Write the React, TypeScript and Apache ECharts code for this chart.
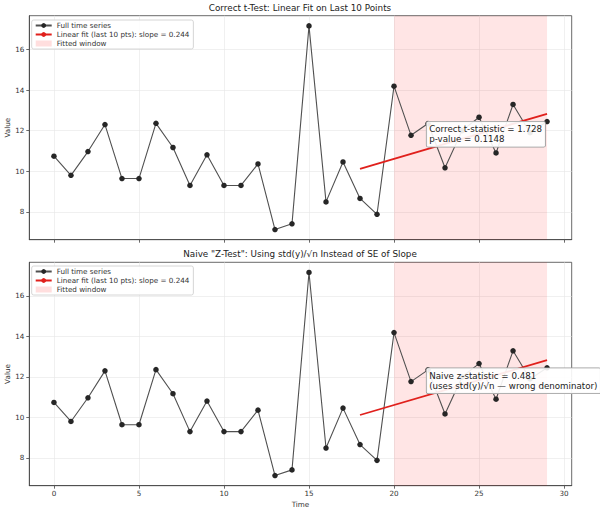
import React, { useEffect, useRef } from "react";
import * as echarts from "echarts";

// ---- data ----
const values = [
  10.74, 9.8, 10.97, 12.3, 9.64, 9.64, 12.36, 11.17, 9.3, 10.81,
  9.3, 9.3, 10.36, 7.13, 7.41, 17.16, 8.49, 10.46, 8.66, 7.88,
  14.19, 11.77, 12.35, 10.17, 12.0, 12.66, 10.9, 13.29, 11.9, 12.45,
];
const fitX = [18, 29];
const fitY = [10.12, 12.83];
const windowRange = [20, 29];
const xTicks = [0, 5, 10, 15, 20, 25, 30];
const yTicks = [8, 10, 12, 14, 16];
const titles = [
  "Correct t-Test: Linear Fit on Last 10 Points",
  'Naive "Z-Test": Using std(y)/√n Instead of SE of Slope',
];
const notes = [
  "Correct t-statistic = 1.728\np-value = 0.1148",
  "Naive z-statistic = 0.481\n(uses std(y)/√n — wrong denominator)",
];
const legendNames = [
  "Full time series",
  "Linear fit (last 10 pts): slope = 0.244",
  "Fitted window",
];

const FONT = "DejaVu Sans";
const PINK = "rgba(255,0,0,0.1)";
const RED = "#e0201c";

export default function App() {
  const ref = useRef<HTMLDivElement>(null);
  useEffect(() => {
    if (!ref.current) return;
    const chart = echarts.init(ref.current, undefined, { renderer: "svg" });
    const mainData = values.map((v, i) => [i, v]);
    const fitData = fitX.map((x, i) => [x, fitY[i]]);
    const yMin = Math.min(...values);
    const yMax = Math.max(...values);
    const yPad = (yMax - yMin) * 0.05;
    const xPad = (values.length - 1) * 0.05;

    const grids = [
      { left: 29.3, top: 15.7, width: 542.4, height: 224 },
      { left: 29.3, top: 262.3, width: 542.4, height: 223.4 },
    ];

    const xAxes = grids.map((_, g) => ({
      type: "value",
      gridIndex: g,
      min: -xPad,
      max: values.length - 1 + xPad,
      name: g === 1 ? "Time" : "",
      nameLocation: "middle",
      nameGap: 15,
      nameMoveOverlap: false,
      nameTextStyle: { fontFamily: FONT, fontSize: 7.2, color: "#333" },
      axisLine: { show: true, onZero: false, lineStyle: { color: "#444", width: 0.8 } },
      axisTick: { show: true, length: 3, customValues: xTicks, lineStyle: { color: "#444", width: 0.8 } },
      axisLabel: {
        show: g === 1,
        customValues: xTicks,
        fontFamily: FONT,
        fontSize: 7.2,
        color: "#333",
        margin: 4.5,
      },
      splitLine: { show: true, lineStyle: { color: "#e6e6e6", width: 0.6 } },
    }));

    const yAxes = grids.map((_, g) => ({
      type: "value",
      gridIndex: g,
      min: yMin - yPad,
      max: yMax + yPad,
      name: "Value",
      nameLocation: "middle",
      nameGap: 18,
      nameMoveOverlap: false,
      nameTextStyle: { fontFamily: FONT, fontSize: 7.2, color: "#333" },
      axisLine: { show: true, onZero: false, lineStyle: { color: "#444", width: 0.8 } },
      axisTick: { show: true, length: 3, customValues: yTicks, lineStyle: { color: "#444", width: 0.8 } },
      axisLabel: {
        customValues: yTicks,
        fontFamily: FONT,
        fontSize: 7.2,
        color: "#333",
        margin: 5,
      },
      splitLine: { show: true, lineStyle: { color: "#e6e6e6", width: 0.6 } },
    }));

    const series: any[] = [];
    grids.forEach((_, g) => {
      series.push({
        name: legendNames[2],
        type: "line",
        xAxisIndex: g,
        yAxisIndex: g,
        data: [],
        itemStyle: { color: "rgba(255,0,0,0.13)" },
        lineStyle: { color: "rgba(255,0,0,0.13)" },
      });
      series.push({
        name: legendNames[0],
        type: "line",
        xAxisIndex: g,
        yAxisIndex: g,
        data: mainData,
        symbol: "circle",
        symbolSize: 5.5,
        lineStyle: { color: "#505050", width: 1.1 },
        itemStyle: { color: "#262626" },
        markArea: {
          silent: true,
          itemStyle: { color: PINK },
          data: [[{ xAxis: windowRange[0] }, { xAxis: windowRange[1] }]],
        },
        z: 3,
      });
      series.push({
        name: legendNames[1],
        type: "line",
        xAxisIndex: g,
        yAxisIndex: g,
        data: fitData,
        symbol: "none",
        lineStyle: { color: RED, width: 1.8 },
        itemStyle: { color: RED },
        z: 4,
      });
    });

    const legendTops = [20, 266];
    const legends = legendTops.map((t) => ({
      left: 31.7,
      top: t,
      orient: "vertical",
      padding: [2, 4, 2, 3],
      itemGap: 2,
      itemWidth: 16,
      itemHeight: 6,
      backgroundColor: "rgba(255,255,255,0.85)",
      borderColor: "#cccccc",
      borderWidth: 0.8,
      borderRadius: 2,
      textStyle: { fontFamily: FONT, fontSize: 7.2, color: "#333" },
      data: [
        { name: legendNames[0] },
        { name: legendNames[1] },
        { name: legendNames[2], icon: "rect", itemStyle: { color: "rgba(255,0,0,0.13)" } },
      ],
      selectedMode: false,
    }));

    const noteBoxes = [
      { x: 426.7, y: 121.7 },
      { x: 426.7, y: 368.3 },
    ];

    chart.setOption({
      animation: false,
      backgroundColor: "#ffffff",
      title: titles.map((t, i) => ({
        text: t,
        left: "center",
        top: i === 0 ? 3 : 249.5,
        padding: 0,
        textStyle: { fontFamily: FONT, fontSize: 8.8, fontWeight: "normal", color: "#222" },
      })),
      grid: grids.map((g) => ({
        ...g,
        show: true,
        outerBoundsMode: "none",
        containLabel: false,
        borderColor: "#444",
        borderWidth: 0.8,
        backgroundColor: "transparent",
      })),
      xAxis: xAxes,
      yAxis: yAxes,
      legend: legends,
      series,
      graphic: noteBoxes.map((b, i) => ({
        type: "text",
        x: b.x,
        y: b.y,
        z: 100,
        style: {
          text: notes[i],
          fontFamily: FONT,
          fontSize: 8.7,
          lineHeight: 10,
          fill: "#222",
          backgroundColor: "rgba(255,255,255,0.9)",
          borderColor: "#999",
          borderWidth: 0.8,
          borderRadius: 1.5,
          padding: [2.5, 3, 2.5, 2.5],
        },
      })),
    });
    return () => chart.dispose();
  }, []);
  return (
    <div
      ref={ref}
      style={{ position: "absolute", left: 0, top: 0, width: 600, height: 513 }}
    />
  );
}
